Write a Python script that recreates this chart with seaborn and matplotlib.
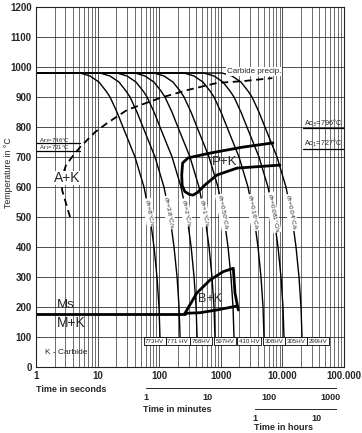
import numpy as np
import pandas as pd
import matplotlib
matplotlib.use("Agg")
import matplotlib.pyplot as plt
import seaborn as sns

sns.set_style("white")
plt.rcParams['font.family'] = ['Liberation Sans', 'DejaVu Sans']
plt.rcParams['mathtext.fontset'] = 'dejavusans'

# ---------------- data ----------------
temps = [980, 980, 970, 950, 920, 900, 850, 800, 750, 700, 600, 500, 400, 300, 200, 100]
t_v8 = [1, 5.18, 7.53, 10.5, 13.7, 15.9, 20.6, 25.8, 32.3, 40.5, 56.6, 70.9, 82.4, 92.1, 99.3, 103]
t_v3_8 = [1, 10.9, 15.9, 22.2, 28.9, 33.6, 43.5, 54.5, 68.2, 85.5, 119.5, 150, 174, 195, 210, 218]
t_v2 = [1, 20.7, 30.0, 42.0, 54.8, 63.6, 82.4, 103, 129, 162, 226, 284, 330, 368, 397, 412]
t_v1 = [1, 40.5, 58.8, 82.0, 107, 124, 161, 201, 252, 316, 442, 554, 644, 719, 776, 804]
t_v0_50 = [1, 82.4, 120, 167, 218, 253, 328, 410, 514, 644, 900, 1127, 1310, 1464, 1579, 1638]
t_v0_16 = [1, 253, 367, 512, 669, 776, 1005, 1259, 1576, 1976, 2762, 3460, 4021, 4494, 4846, 5026]
t_v0_081 = [1, 534, 776, 1082, 1411, 1638, 2122, 2657, 3327, 4172, 5830, 7303, 8487, 9486, 10228, 10609]
t_v0_04 = [1, 1046, 1520, 2120, 2766, 3210, 4159, 5209, 6521, 8177, 11427, 14315, 16637, 18595, 20049, 20796]
curve_times = [t_v8, t_v3_8, t_v2, t_v1, t_v0_50, t_v0_16, t_v0_081, t_v0_04]
rate_labels = ["8", "3.8", "2", "1", "0.50", "0.16", "0.081", "0.04"]
label_times = [68.3, 144, 272, 533, 1087, 3340, 7050, 13790]
label_temp = 515
hardness = ["773HV", "771 HV", "768HV", "597HV", "410 HV", "308HV", "305HV", "299HV"]
hardness_times = [84.5, 200, 482, 1161, 2906, 7278, 16890, 37760]

carbide_t = [3.57, 2.65, 2.65, 3.07, 3.85, 5.2, 9.1, 14.3, 30.2, 104, 285, 877, 2322, 6870]
carbide_T = [500, 590, 633, 673, 700, 733, 783, 813, 857, 897, 923, 947, 953, 963]

pk_t = [7030, 2291, 668, 294, 240, 232, 236, 260, 310, 354, 420, 554, 867, 1832, 9140]
pk_T = [747, 733, 713, 697, 680, 640, 605, 585, 575, 573, 582, 607, 640, 663, 673]

bk_upper_t = [262, 406, 668, 1099, 1596, 1702, 1923]
bk_upper_T = [179, 246, 290, 318, 329, 246, 190]
bk_lower_t = [262, 459, 857, 1811]
bk_lower_T = [179, 181, 190, 203]

ms_t = [1, 262]
ms_T = [176, 176]

Ar3, Ar1, Ac3, Ac1 = 746, 721, 796, 727

# ---------------- figure ----------------
W, H = 362, 433
fig = plt.figure(figsize=(W / 100, H / 100), dpi=100)
ax = fig.add_axes([36 / W, 66 / H, 308 / W, 360 / H])

rows = []
for i, ts in enumerate(curve_times):
    for t, T in zip(ts, temps):
        rows.append({"curve": rate_labels[i], "time": t, "temp": T})
df = pd.DataFrame(rows)
sns.lineplot(data=df, x="time", y="temp", hue="curve", units="curve", estimator=None,
             sort=False, palette=["black"] * len(curve_times), legend=False, lw=1.0, ax=ax)

ax.set_xscale("log")
ax.set_xlim(1, 1e5)
ax.set_ylim(0, 1200)

# grid
ax.set_yticks(np.arange(0, 1201, 100))
ax.set_xticks([1, 10, 100, 1000, 10000, 100000])
ax.set_xticklabels(["1", "10", "100", "1000", "10.000", "100.000"])
ax.grid(True, which="major", color="#333333", lw=0.6)
ax.grid(True, which="minor", axis="x", color="#333333", lw=0.5)
ax.tick_params(axis="both", which="both", length=0, labelsize=7, pad=3)
for lab in ax.get_xticklabels() + ax.get_yticklabels():
    lab.set_fontweight("bold")
for s in ax.spines.values():
    s.set_color("#222222")
    s.set_linewidth(0.8)
ax.set_axisbelow(True)

# carbide precipitation
sns.lineplot(x=carbide_t, y=carbide_T, sort=False, estimator=None, color="black", lw=1.3,
             dashes=False, ax=ax)
ax.lines[-1].set_linestyle((0, (4, 2.5)))

# regions
sns.lineplot(x=pk_t, y=pk_T, sort=False, estimator=None, color="black", lw=2.0, ax=ax)
sns.lineplot(x=bk_upper_t, y=bk_upper_T, sort=False, estimator=None, color="black", lw=2.0, ax=ax)
sns.lineplot(x=bk_lower_t, y=bk_lower_T, sort=False, estimator=None, color="black", lw=2.0, ax=ax)
sns.lineplot(x=ms_t, y=ms_T, sort=False, estimator=None, color="black", lw=2.0, ax=ax)

# transformation temperatures
ax.plot([1, 5.2], [Ar3, Ar3], color="black", lw=0.9)
ax.plot([1, 5.2], [Ar1, Ar1], color="black", lw=0.9)
ax.plot([21600, 1e5], [Ac3, Ac3], color="black", lw=0.9)
ax.plot([21600, 1e5], [Ac1, Ac1], color="black", lw=0.9)
ax.text(1.1, Ar3 + 4, f"Ar$_3$={Ar3}°C", fontsize=4.3, va="baseline", ha="left")
ax.text(1.1, Ar1 + 4, f"Ar$_1$={Ar1}°C", fontsize=4.3, va="baseline", ha="left")
ax.text(22500, Ac3 + 9, f"Ac$_3$={Ac3}°C", fontsize=5.2, va="baseline", ha="left")
ax.text(22500, Ac1 + 9, f"Ac$_1$={Ac1}°C", fontsize=5.2, va="baseline", ha="left")

# curve labels
for lt, r in zip(label_times, rate_labels):
    ax.text(lt, label_temp, r"$\vartheta_T$=" + r + "°C/s", fontsize=4.6, rotation=-79,
            ha="center", va="center", rotation_mode="anchor",
            bbox=dict(facecolor="white", edgecolor="none", pad=0.2))

# hardness boxes
for ht, h in zip(hardness_times, hardness):
    ax.text(ht, 86, h, fontsize=4.4, ha="center", va="center",
            bbox=dict(boxstyle="square,pad=0.25", facecolor="white", edgecolor="black", lw=0.6))

# region labels
ax.text(1.95, 630, "A+K", fontsize=10, ha="left", va="center",
        bbox=dict(facecolor="white", edgecolor="none", pad=0.1))
ax.text(1140, 683, "P+K", fontsize=9.5, ha="center", va="center")
ax.text(675, 225, "B+K", fontsize=9, ha="center", va="center")
ax.text(2.15, 207, "Ms", fontsize=9.5, ha="left", va="center")
ax.text(2.15, 147, "M+K", fontsize=10, ha="left", va="center")
ax.text(1.4, 47, "K - Carbide", fontsize=6, ha="left", va="center")
ax.text(3500, 985, "Carbide precip.", fontsize=5.8, ha="center", va="center",
        bbox=dict(facecolor="white", edgecolor="none", pad=0.5))

ax.set_xlabel("")
ax.set_ylabel("Temperature in °C", fontsize=6.3)
ax.yaxis.set_label_coords(-0.075, 647 / 1200)

fig.text(36 / W, 1 - 389 / H, "Time in seconds", fontsize=6.5, fontweight="bold", ha="left", va="center")

# minutes axis
axm = fig.add_axes([36 / W, (H - 388) / H, 308 / W, 0.0001])
axm.set_xscale("log")
axm.set_xlim(1 / 60, 1e5 / 60)
axm.set_yticks([])
for k in ["left", "right", "top"]:
    axm.spines[k].set_visible(False)
axm.spines["bottom"].set_bounds(1, 1250)
axm.spines["bottom"].set_linewidth(0.7)
axm.set_xticks([1, 10, 100, 1000])
axm.set_xticklabels(["1", "10", "100", "1000"])
axm.xaxis.set_minor_locator(matplotlib.ticker.NullLocator())
axm.tick_params(axis="x", direction="inout", length=5, width=0.7, labelsize=6.5, pad=1)
for lab in axm.get_xticklabels():
    lab.set_fontweight("bold")
axm.patch.set_visible(False)
fig.text(143 / W, 1 - 410 / H, "Time in minutes", fontsize=6.5, fontweight="bold", ha="left", va="center")

# hours axis
axh = fig.add_axes([36 / W, (H - 409) / H, 308 / W, 0.0001])
axh.set_xscale("log")
axh.set_xlim(1 / 3600, 1e5 / 3600)
axh.set_yticks([])
for k in ["left", "right", "top"]:
    axh.spines[k].set_visible(False)
axh.spines["bottom"].set_bounds(1, 20.6)
axh.spines["bottom"].set_linewidth(0.7)
axh.set_xticks([1, 10])
axh.set_xticklabels(["1", "10"])
axh.xaxis.set_minor_locator(matplotlib.ticker.NullLocator())
axh.tick_params(axis="x", direction="inout", length=5, width=0.7, labelsize=6.5, pad=1)
for lab in axh.get_xticklabels():
    lab.set_fontweight("bold")
axh.patch.set_visible(False)
fig.text(254 / W, 1 - 428 / H, "Time in hours", fontsize=6.5, fontweight="bold", ha="left", va="center")

fig.savefig("out.png", dpi=100)
